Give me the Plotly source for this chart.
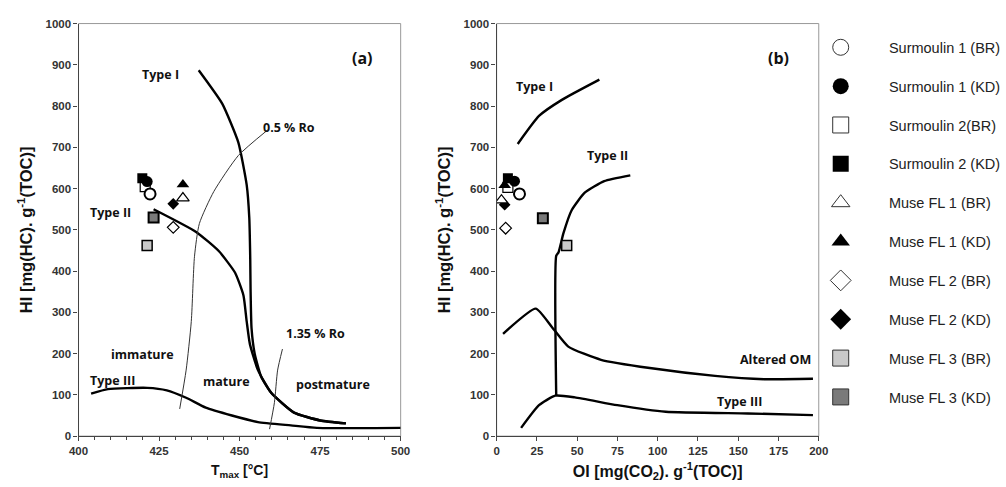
import plotly.graph_objects as go

# ---------------- data ----------------
series_names = ["Surmoulin 1 (BR)", "Surmoulin 1 (KD)", "Surmoulin 2(BR)", "Surmoulin 2 (KD)",
                "Muse FL 1 (BR)", "Muse FL 1 (KD)", "Muse FL 2 (BR)", "Muse FL 2 (KD)",
                "Muse FL 3 (BR)", "Muse FL 3 (KD)"]
tmax_vals = [422.2, 421.3, 420.7, 419.8, 432.4, 432.4, 429.4, 429.4, 421.3, 423.3]
hi_vals_a = [587, 617, 605, 625, 577, 610, 506, 563, 462, 530]
oi_vals = [14.2, 11.1, 7.0, 7.0, 3.0, 5.0, 5.6, 5.0, 43.5, 28.7]
hi_vals_b = [587, 618, 603, 625, 572, 608, 504, 561, 462, 528]

# tick labels
hi_ticks = [0, 100, 200, 300, 400, 500, 600, 700, 800, 900, 1000]
tmax_ticks = [400, 425, 450, 475, 500]
oi_ticks = [0, 25, 50, 75, 100, 125, 150, 175, 200]

# panel (a) reference curves
typeI_a_x = [437.3, 444.6, 449.6, 452.2, 453.0, 453.3, 453.4, 453.7, 454.7, 456.7, 459.8, 466.9, 475.0, 483.0]
typeI_a_y = [887, 806, 712, 609, 530, 430, 357, 262, 199, 144, 105, 57, 38, 31]
typeII_a_x = [423.3, 436.5, 443.6, 448.6, 451.2, 452.2, 453.2, 455.7, 459.8, 466.9, 475.0, 483.0]
typeII_a_y = [550, 495, 448, 396, 341, 278, 223, 160, 105, 57, 38, 31]
typeIII_a_x = [403.9, 409.1, 421.3, 427.4, 433.4, 439.5, 447.6, 455.7, 465.9, 474.0, 500.0]
typeIII_a_y = [103, 114, 117, 111, 93, 69, 50, 34, 26, 20, 20]
ro05_x = [431.4, 433.4, 435.0, 436.0, 437.5, 442.0, 449.6, 458.7]
ro05_y = [66, 160, 278, 436, 515, 593, 680, 742]
ro135_x = [459.3, 460.8, 461.8, 463.3]
ro135_y = [17, 81, 160, 211]

# panel (b) reference curves
typeI_b_x = [13.1, 26.3, 40.5, 63.8]
typeI_b_y = [708, 776, 815, 864]
typeII_b_x = [83.0, 66.8, 54.7, 46.5, 41.5, 38.4, 37.0, 37.0]
typeII_b_y = [632, 618, 590, 547, 492, 445, 437, 98]
altered_x = [4.0, 24.3, 34.4, 44.5, 64.8, 95.1, 135.6, 166.0, 196.4]
altered_y = [248, 309, 264, 217, 185, 165, 146, 138, 139]
typeIII_b_x = [15.2, 26.3, 36.4, 48.6, 74.9, 105.0, 155.9, 196.4]
typeIII_b_y = [20, 75, 98, 94, 75, 59, 55, 51]

# ---------------- styles ----------------
symbols = ["circle", "circle", "square", "square", "triangle-up", "triangle-up",
           "diamond", "diamond", "square", "square"]
fills = ["white", "black", "white", "black", "white", "black", "white", "black", "#c9c9c9", "#7a7a7a"]
sizes = [11, 11, 10, 10, 11, 11, 9, 9, 10, 10]
lwidths = [2, 0, 1.2, 0, 1.2, 0, 1.2, 0, 1.5, 2]
leg_lw = [1, 0, 1, 0, 1, 0, 1, 0, 1, 1]

fig = go.Figure()

curve_style = dict(mode="lines", line=dict(color="black", width=2.4, shape="spline", smoothing=0.5),
                   showlegend=False, hoverinfo="skip")
thin_style = dict(mode="lines", line=dict(color="#333", width=1, shape="spline", smoothing=0.6),
                  showlegend=False, hoverinfo="skip")

fig.add_trace(go.Scatter(x=typeI_a_x, y=typeI_a_y, xaxis="x", yaxis="y", **curve_style))
fig.add_trace(go.Scatter(x=typeII_a_x, y=typeII_a_y, xaxis="x", yaxis="y", **curve_style))
fig.add_trace(go.Scatter(x=typeIII_a_x, y=typeIII_a_y, xaxis="x", yaxis="y", **curve_style))
fig.add_trace(go.Scatter(x=ro05_x, y=ro05_y, xaxis="x", yaxis="y", **thin_style))
fig.add_trace(go.Scatter(x=ro135_x, y=ro135_y, xaxis="x", yaxis="y", **thin_style))

fig.add_trace(go.Scatter(x=typeI_b_x, y=typeI_b_y, xaxis="x2", yaxis="y2", **curve_style))
fig.add_trace(go.Scatter(x=typeII_b_x, y=typeII_b_y, xaxis="x2", yaxis="y2", **curve_style))
fig.add_trace(go.Scatter(x=altered_x, y=altered_y, xaxis="x2", yaxis="y2", **curve_style))
fig.add_trace(go.Scatter(x=typeIII_b_x, y=typeIII_b_y, xaxis="x2", yaxis="y2", **curve_style))

order = [8, 9, 6, 7, 2, 3, 0, 1, 4, 5]
for i in order:
    mk = dict(symbol=symbols[i], size=sizes[i], color=fills[i],
              line=dict(color="black", width=lwidths[i]))
    fig.add_trace(go.Scatter(x=[tmax_vals[i]], y=[hi_vals_a[i]], mode="markers", marker=mk,
                             xaxis="x", yaxis="y", showlegend=False, name=series_names[i]))
    fig.add_trace(go.Scatter(x=[oi_vals[i]], y=[hi_vals_b[i]], mode="markers", marker=mk,
                             xaxis="x2", yaxis="y2", showlegend=False, name=series_names[i]))

nb = "\u00a0" * 7
for i, nm in enumerate(series_names):
    fig.add_trace(go.Scatter(x=[None], y=[None], mode="markers", name=nb + nm,
                             legendgroup=str(i),
                             marker=dict(symbol=symbols[i], size=16, color=fills[i],
                                         line=dict(color="#333", width=leg_lw[i])),
                             xaxis="x", yaxis="y"))

tickfont = dict(family="Liberation Sans, Arial", size=11.5, color="#333")
titlefont = dict(family="Liberation Sans, Arial", size=16, color="#111")
ydom = [46 / 487, 469 / 487]

axis_common = dict(showgrid=False, zeroline=False, showline=True, linecolor="#444", linewidth=1.3,
                   ticks="outside", ticklen=4, tickcolor="#444", tickfont=tickfont)


def bold(vals):
    return ["<b>%s</b>" % v for v in vals]


fig.update_layout(
    width=1006, height=487, margin=dict(l=0, r=0, t=0, b=0),
    paper_bgcolor="white", plot_bgcolor="white",
    xaxis=dict(domain=[70 / 1006, 399 / 1006], range=[400, 500],
               tickvals=tmax_ticks, ticktext=bold(tmax_ticks),
               minor=dict(dtick=5, ticks="outside", ticklen=3, tickcolor="#444"),
               title=dict(text="<b>T<sub>max</sub> [°C]</b>", font=dict(titlefont, size=14), standoff=9),
               anchor="y", **axis_common),
    yaxis=dict(domain=ydom, range=[0, 1000], tickvals=hi_ticks, ticktext=bold(hi_ticks), anchor="x",
               title=dict(text="<b>HI [mg(HC). g<sup>-1</sup>(TOC)]</b>", font=dict(titlefont, size=16.5), standoff=8),
               **axis_common),
    xaxis2=dict(domain=[497 / 1006, 826 / 1006], range=[0, 200],
                tickvals=oi_ticks, ticktext=bold(oi_ticks), anchor="y2",
                title=dict(text="<b>OI [mg(CO<sub>2</sub>). g<sup>-1</sup>(TOC)]</b>", font=titlefont, standoff=9),
                **axis_common),
    yaxis2=dict(domain=ydom, range=[0, 1000], tickvals=hi_ticks, ticktext=bold(hi_ticks), anchor="x2",
                title=dict(text="<b>HI [mg(HC). g<sup>-1</sup>(TOC)]</b>", font=dict(titlefont, size=16.5), standoff=8),
                **axis_common),
    legend=dict(x=828 / 1006, xanchor="left", y=1 - 26 / 487, yanchor="top",
                font=dict(family="Liberation Sans, Arial", size=14.5, color="#222"),
                traceorder="grouped", tracegroupgap=17, itemsizing="trace",
                bgcolor="rgba(0,0,0,0)"),
)

# gray plot-area frames
for xr, yr in [("x domain", "y domain"), ("x2 domain", "y2 domain")]:
    fig.add_shape(type="rect", xref=xr, yref=yr, x0=0, x1=1, y0=0, y1=1,
                  line=dict(color="#999", width=1), layer="below")

ann_font = dict(family="Open Sans, Liberation Sans", size=12.5, color="#111")
labels_a = [("<b>(a)</b>", 488, 917, 16), ("<b>Type I</b>", 425.5, 877, None),
            ("<b>0.5 % Ro</b>", 465.3, 747, None), ("<b>Type II</b>", 410, 541, None),
            ("<b>1.35 % Ro</b>", 473.5, 248, None), ("<b>immature</b>", 419.8, 199, None),
            ("<b>mature</b>", 446, 132, None), ("<b>postmature</b>", 479, 125, None),
            ("<b>Type III</b>", 410.6, 136, None)]
labels_b = [("<b>(b)</b>", 175, 917, 16), ("<b>Type I</b>", 23.3, 848, None),
            ("<b>Type II</b>", 68.8, 681, None), ("<b>Altered OM</b>", 173, 185, None),
            ("<b>Type III</b>", 150.8, 83, None)]
for txt, x, y, fs in labels_a:
    f = dict(ann_font)
    if fs:
        f["size"] = fs
    fig.add_annotation(x=x, y=y, xref="x", yref="y", text=txt, showarrow=False, font=f)
for txt, x, y, fs in labels_b:
    f = dict(ann_font)
    if fs:
        f["size"] = fs
    fig.add_annotation(x=x, y=y, xref="x2", yref="y2", text=txt, showarrow=False, font=f)

fig.write_html("out.html")
